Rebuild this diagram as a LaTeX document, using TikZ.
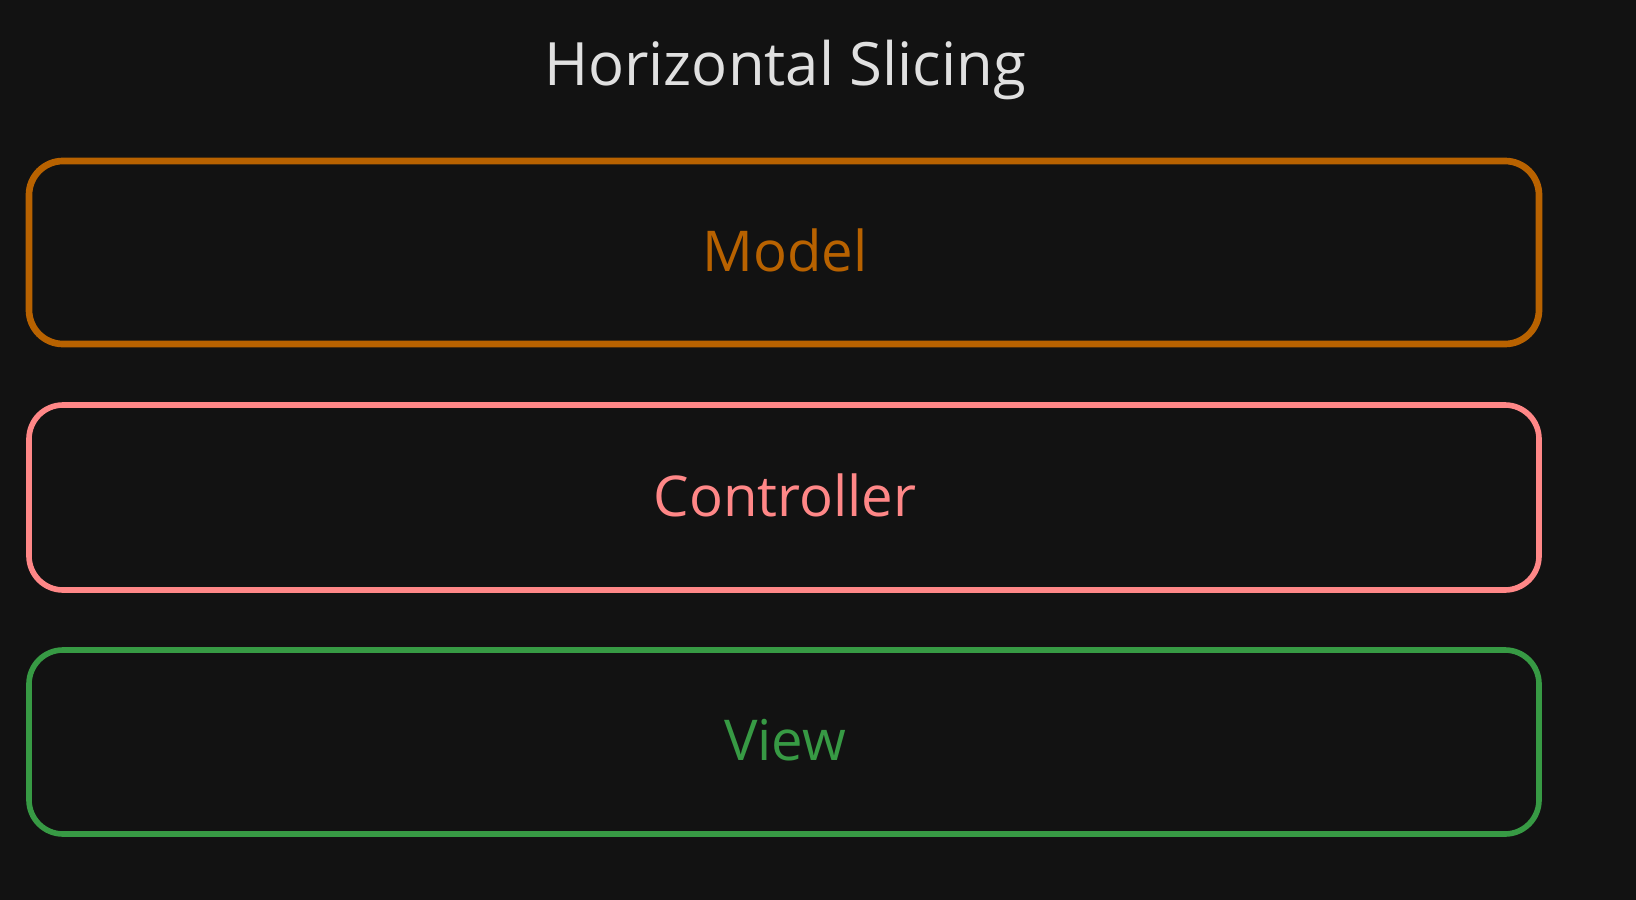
\documentclass[tikz,border=0pt]{standalone}
\usepackage{fontspec}
\setmainfont{Open Sans}
\definecolor{bg}{HTML}{121212}
\definecolor{titlec}{HTML}{E0E0E0}
\definecolor{modelc}{HTML}{B86200}
\definecolor{ctrlc}{HTML}{FF8787}
\definecolor{viewc}{HTML}{379A44}
\tikzset{
  layer/.style={draw, line width=1.6pt, rounded corners=0.34cm},
  layertext/.style={font=\fontsize{16}{20}\selectfont, anchor=center},
}
\begin{document}
\begin{tikzpicture}[x=0.01cm,y=-0.01cm]
\fill[bg] (0,0) rectangle (1636,900);
\useasboundingbox (0,0) rectangle (1636,900);
\node[font=\fontsize{17}{20}\selectfont, text=titlec] (title) at (785,70) {Horizontal Slicing};
\draw[layer, modelc, line width=1.9pt] (29,161) rectangle (1539,344);
\node[layertext, text=modelc] (model) at (785,250) {Model};
\draw[layer, ctrlc] (29,405) rectangle (1539,590);
\node[layertext, text=ctrlc] (ctrl) at (785,495) {Controller};
\draw[layer, viewc] (29,650) rectangle (1539,834);
\node[layertext, text=viewc] (view) at (785,740) {View};
\end{tikzpicture}
\end{document}
